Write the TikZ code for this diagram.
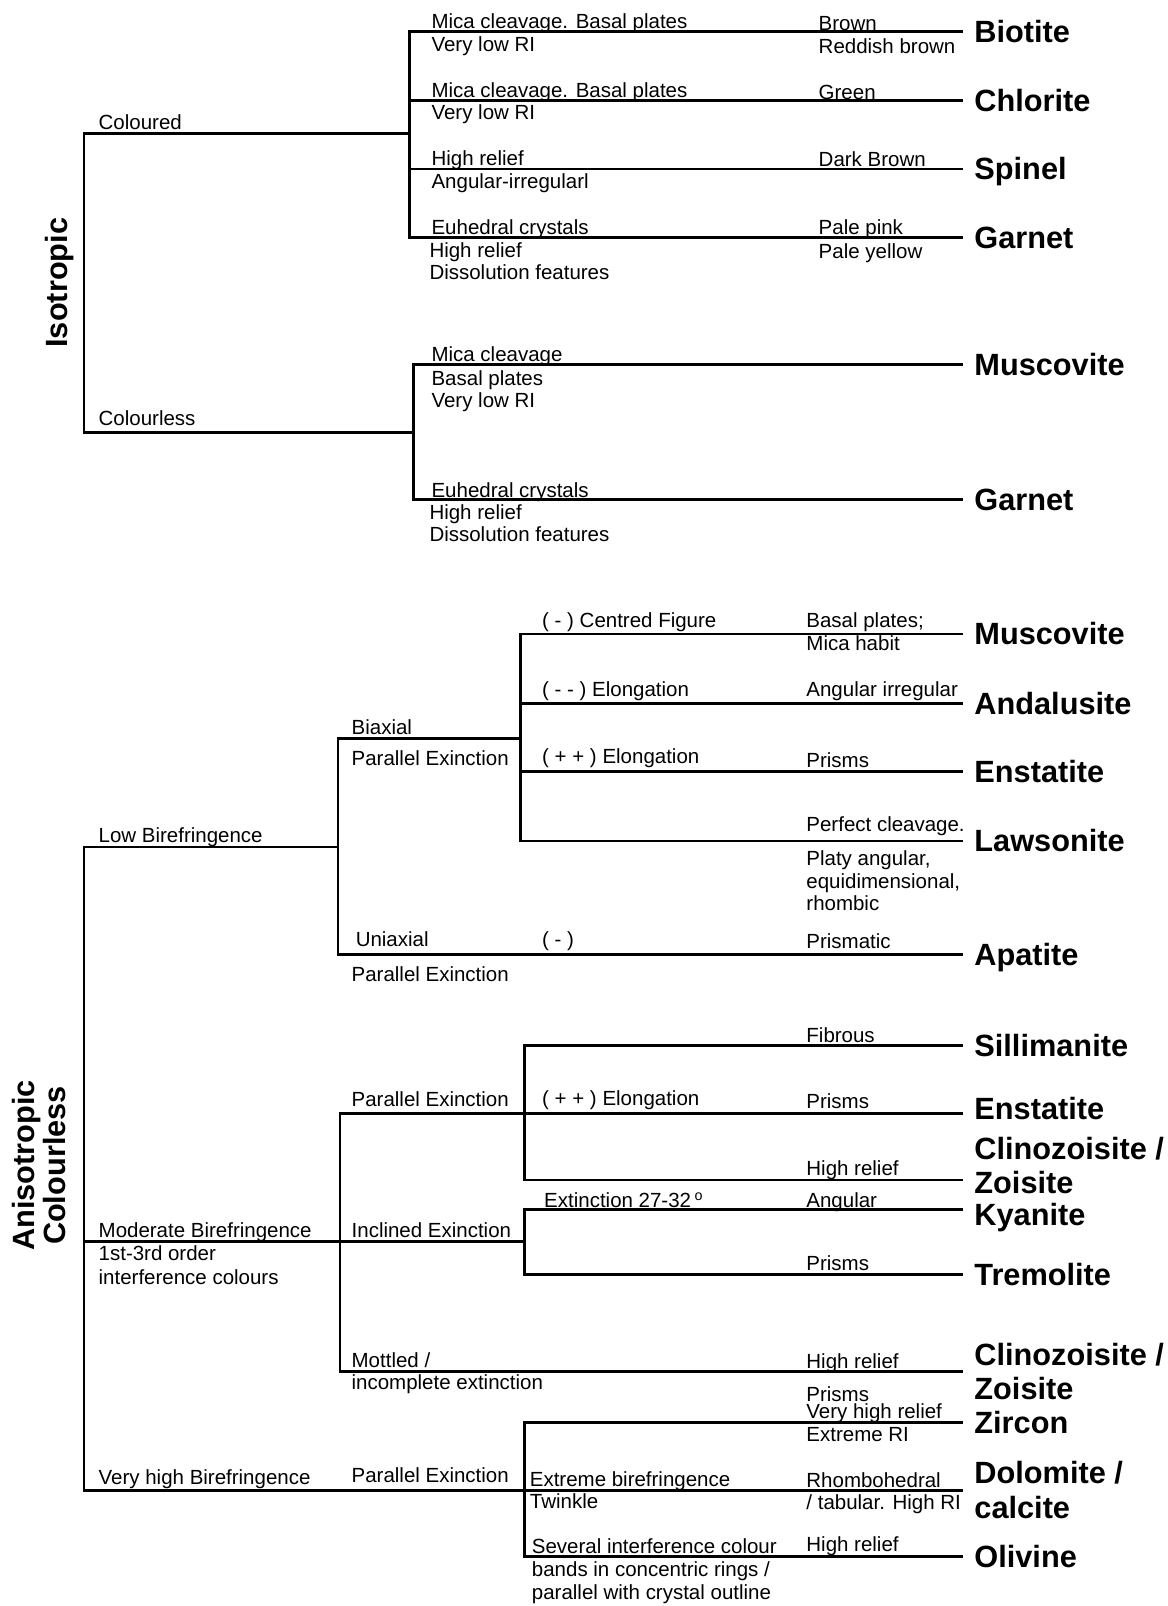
\documentclass[tikz,border=0pt]{standalone}
\usepackage{fontspec}
\setmainfont{Liberation Sans}

\tikzset{
  note/.style={anchor=base west, inner sep=0pt, font=\fontsize{10}{11.25}\selectfont},
  mineral/.style={anchor=west, inner xsep=5pt, inner ysep=0pt, text height=10.7pt, text depth=0pt, font=\fontsize{15}{17}\selectfont\bfseries},
  mineraltwo/.style={anchor=west, inner xsep=5pt, inner ysep=0pt, align=left, font=\fontsize{15}{17}\selectfont\bfseries},
  heading/.style={rotate=90, align=center, inner sep=0pt, font=\fontsize{15}{15}\selectfont\bfseries},
}

\begin{document}
\begin{tikzpicture}[x=0.5pt, y=-0.5pt, line width=1.35pt]
\useasboundingbox (0,0) rectangle (1140,1568);

\def\minx{940}
\def\propx{786}

% ---------------- Isotropic ----------------
\node[heading] (iso) at (58,276) {Isotropic};

\coordinate (rootiso) at (82,276);
\coordinate (fcol) at (400,130);
\coordinate (fcls) at (404,422);

\node[mineral] (bio) at (\minx,31) {Biotite};
\node[mineral] (chl) at (\minx,98) {Chlorite};
\node[mineral] (spi) at (\minx,165) {Spinel};
\node[mineral] (gar) at (\minx,232) {Garnet};
\node[mineral] (mus) at (\minx,356) {Muscovite};
\node[mineral] (garb) at (\minx,488) {Garnet};

\draw (fcol) -| (rootiso) |- (fcls);
\draw (fcol) |- (bio.west);
\draw (fcol) |- (chl.west);
\draw (fcol) |- (spi.west);
\draw (fcol) |- (gar.west);
\draw (fcls) |- (mus.west);
\draw (fcls) |- (garb.west);

\node[note] (col) at (95,126) {Coloured};
\node[note] (cls) at (95,415) {Colourless};

\node[note] (bio1) at (420,28) {Mica cleavage. Basal plates};
\node[note] (bio2) at (420,50) {Very low RI};
\node[note] (bio3) at (798,30) {Brown};
\node[note] (bio4) at (798,52) {Reddish brown};
\node[note] (chl1) at (420,95) {Mica cleavage. Basal plates};
\node[note] (chl2) at (420,117) {Very low RI};
\node[note] (chl3) at (798,97) {Green};
\node[note] (spi1) at (420,162) {High relief};
\node[note] (spi2) at (420,184) {Angular-irregularl};
\node[note] (spi3) at (798,163) {Dark Brown};
\node[note] (gar1) at (420,229) {Euhedral crystals};
\node[note] (gar2) at (418,251) {High relief};
\node[note] (gar3) at (418,273) {Dissolution features};
\node[note] (gar4) at (798,229) {Pale pink};
\node[note] (gar5) at (798,252) {Pale yellow};

\node[note] (mus1) at (420,353) {Mica cleavage};
\node[note] (mus2) at (420,376) {Basal plates};
\node[note] (mus3) at (420,398) {Very low RI};
\node[note] (garb1) at (420,486) {Euhedral crystals};
\node[note] (garb2) at (418,507) {High relief};
\node[note] (garb3) at (418,529) {Dissolution features};

% ---------------- Anisotropic ----------------
\node[heading] (aniso) at (38,1138) {Anisotropic\\Colourless};

\coordinate (rootani) at (82,1212);
\coordinate (flow) at (330,827);
\coordinate (fbia) at (508,721);
\coordinate (fmod) at (332,1212);
\coordinate (fpar) at (512,1087);
\coordinate (finc) at (512,1212);
\coordinate (fvhi) at (512,1455);

\node[mineral] (musa) at (\minx,619) {Muscovite};
\node[mineral] (and) at (\minx,687) {Andalusite};
\node[mineral] (ens) at (\minx,753) {Enstatite};
\node[mineral] (law) at (\minx,821) {Lawsonite};
\node[mineral] (apa) at (\minx,932) {Apatite};
\node[mineral] (sil) at (\minx,1021) {Sillimanite};
\node[mineral] (ensb) at (\minx,1082) {Enstatite};
\node[mineraltwo] (cza) at (\minx,1138) {Clinozoisite /\\Zoisite};
\node[mineral] (kya) at (\minx,1186) {Kyanite};
\node[mineral] (tre) at (\minx,1244) {Tremolite};
\node[mineraltwo] (czb) at (\minx,1339) {Clinozoisite /\\Zoisite};
\node[mineral] (zir) at (\minx,1389) {Zircon};
\node[mineraltwo] (dol) at (\minx,1455) {Dolomite /\\calcite};
\node[mineral] (oli) at (\minx,1520) {Olivine};

\draw (flow) -| (rootani) |- (fvhi);
\draw (rootani) -- (fmod) -- (finc);
\draw (fbia) -| (flow) |- (apa.west);
\draw (fbia) |- (musa.west);
\draw (fbia) |- (and.west);
\draw (fbia) |- (ens.west);
\draw (fbia) |- (law.west);
\draw (fpar) -| (fmod) |- (czb.west);
\draw (fpar) |- (sil.west);
\draw (fpar) |- ([yshift=-2.5pt]ensb.west);
\draw (fpar) |- ([yshift=-7pt]cza.west);
\draw (finc) |- ([yshift=2.5pt]kya.west);
\draw (finc) |- (tre.west);
\draw (fvhi) |- (zir.west);
\draw (fvhi) |- (dol.west);
\draw (fvhi) |- (oli.west);

% low birefringence
\node[note] (low) at (95,823) {Low Birefringence};
\node[note] (bia1) at (342,717) {Biaxial};
\node[note] (bia2) at (342,747) {Parallel Exinction};
\node[note] (musa1) at (528,613) {( - ) Centred Figure};
\node[note] (musa2) at (\propx,613) {Basal plates;};
\node[note] (musa3) at (\propx,635) {Mica habit};
\node[note] (and1) at (528,680) {( - - ) Elongation};
\node[note] (and2) at (\propx,680) {Angular irregular};
\node[note] (ens1) at (528,745) {( + + ) Elongation};
\node[note] (ens2) at (\propx,749) {Prisms};
\node[note] (law1) at (\propx,812) {Perfect cleavage.};
\node[note] (law2) at (\propx,845) {Platy angular,};
\node[note] (law3) at (\propx,867) {equidimensional,};
\node[note] (law4) at (\propx,889) {rhombic};
\node[note] (uni1) at (346,924) {Uniaxial};
\node[note] (uni2) at (342,958) {Parallel Exinction};
\node[note] (apa1) at (528,924) {( - )};
\node[note] (apa2) at (\propx,926) {Prismatic};

% moderate birefringence
\node[note] (mod1) at (95,1208) {Moderate Birefringence};
\node[note] (mod2) at (95,1231) {1st-3rd order};
\node[note] (mod3) at (95,1254) {interference colours};
\node[note] (par) at (342,1080) {Parallel Exinction};
\node[note] (sil1) at (\propx,1018) {Fibrous};
\node[note] (ensb1) at (528,1079) {( + + ) Elongation};
\node[note] (ensb2) at (\propx,1082) {Prisms};
\node[note] (cza1) at (\propx,1148) {High relief};
\node[note] (inc) at (342,1208) {Inclined Exinction};
\node[note] (kya1) at (530,1179) {Extinction 27-32\,\textsuperscript{o}};
\node[note] (kya2) at (\propx,1179) {Angular};
\node[note] (tre1) at (\propx,1240) {Prisms};
\node[note] (mot1) at (342,1335) {Mottled /};
\node[note] (mot2) at (342,1357) {incomplete extinction};
\node[note] (czb1) at (\propx,1336) {High relief};
\node[note] (czb2) at (\propx,1368) {Prisms};

% very high birefringence
\node[note] (vhi) at (95,1449) {Very high Birefringence};
\node[note] (vpar) at (342,1447) {Parallel Exinction};
\node[note] (zir1) at (\propx,1385) {Very high relief};
\node[note] (zir2) at (\propx,1407) {Extreme RI};
\node[note] (dol1) at (516,1451) {Extreme birefringence};
\node[note] (dol2) at (516,1473) {Twinkle};
\node[note] (dol3) at (\propx,1452) {Rhombohedral};
\node[note] (dol4) at (\propx,1474) {/ tabular. High RI};
\node[note] (oli1) at (518,1517) {Several interference colour};
\node[note] (oli2) at (518,1539) {bands in concentric rings /};
\node[note] (oli3) at (518,1562) {parallel with crystal outline};
\node[note] (oli4) at (\propx,1515) {High relief};

\end{tikzpicture}
\end{document}
